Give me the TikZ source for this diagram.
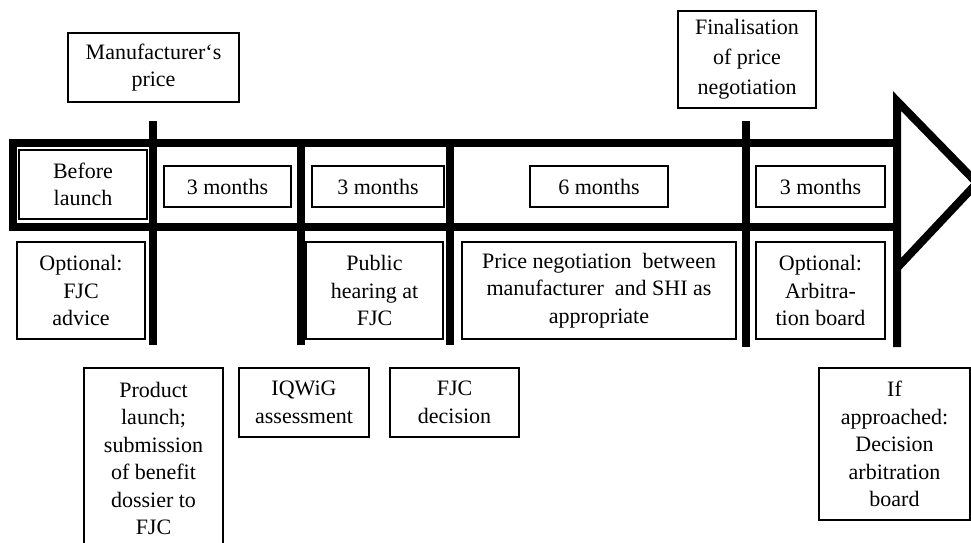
\documentclass[tikz,border=0pt]{standalone}
\usepackage{fontspec}
\setmainfont{Liberation Serif}
\begin{document}
\begin{tikzpicture}[x=1pt,y=-1pt,
  box/.style={draw=black,line width=1.1pt,fill=white,inner sep=0pt,align=center,
    font=\fontsize{22}{27.5}\selectfont},
  thick band/.style={line width=8pt,line join=miter,draw=black}]
\useasboundingbox (0,0) rectangle (971,542);
\clip (0,0) rectangle (971,542);
% timeline band and markers
\draw[thick band] (9,143) -- (897,143);
\draw[thick band] (9,226.5) -- (897,226.5);
\draw[thick band] (13,139) -- (13,230.5);
\coordinate (v1t) at (153,121); \coordinate (v1b) at (153,345);
\coordinate (v2t) at (301,143); \coordinate (v2b) at (301,345);
\coordinate (v3t) at (449.5,143); \coordinate (v3b) at (449.5,345);
\coordinate (v4t) at (746,121); \coordinate (v4b) at (746,347);
\coordinate (v5b) at (897,347); \coordinate (atop) at (897,101);
\coordinate (atip) at (977,183); \coordinate (abot) at (897,268);
\draw[thick band] (v1t) -- (v1b);
\draw[thick band] (v2t) -- (v2b);
\draw[thick band] (v3t) -- (v3b);
\draw[thick band] (v4t) -- (v4b);
\draw[thick band] (v5b) -- (atop) -- (atip) -- (abot);
% boxes
\node[box,minimum width=171pt,minimum height=69pt] (manu) at (153.5,67.5) {Manufacturer‘s\\price};
\node[box,minimum width=138pt,minimum height=97pt,font=\fontsize{22}{30}\selectfont] (final) at (747,59.5) {Finalisation\\of price\\negotiation};
\node[box,line width=1.8pt,minimum width=128pt,minimum height=69pt] (before) at (83,184.5) {Before\\launch};
\node[box,minimum width=127pt,minimum height=41pt] (m1) at (227.5,186.5) {3 months};
\node[box,minimum width=132pt,minimum height=41pt] (m2) at (378,186.5) {3 months};
\node[box,minimum width=138pt,minimum height=41pt] (m3) at (599,186.5) {6 months};
\node[box,minimum width=129pt,minimum height=41pt] (m4) at (820.5,186.5) {3 months};
\node[box,minimum width=128pt,minimum height=97pt] (optfjc) at (81,290.5) {Optional:\\FJC\\advice};
\node[box,minimum width=137pt,minimum height=97pt] (public) at (374.5,290.5) {Public\\hearing at\\FJC};
\node[box,minimum width=274pt,minimum height=97pt] (priceneg) at (599,290.5) {Price negotiation\ \ between\\manufacturer\ \ and SHI as\\appropriate};
\node[box,minimum width=129pt,minimum height=97pt] (arb) at (820.5,290.5) {Optional:\\Arbitra-\\tion board};
\node[box,minimum width=139pt,minimum height=181pt] (launch) at (153.5,458.5) {Product\\launch;\\submission\\of benefit\\dossier to\\FJC};
\node[box,minimum width=130pt,minimum height=69pt] (iqwig) at (304,402.5) {IQWiG\\assessment};
\node[box,minimum width=129pt,minimum height=69pt] (fjcdec) at (454.5,402.5) {FJC\\decision};
\node[box,minimum width=151pt,minimum height=152pt] (ifapp) at (894.5,444) {If\\approached:\\Decision\\arbitration\\board};
\end{tikzpicture}
\end{document}
